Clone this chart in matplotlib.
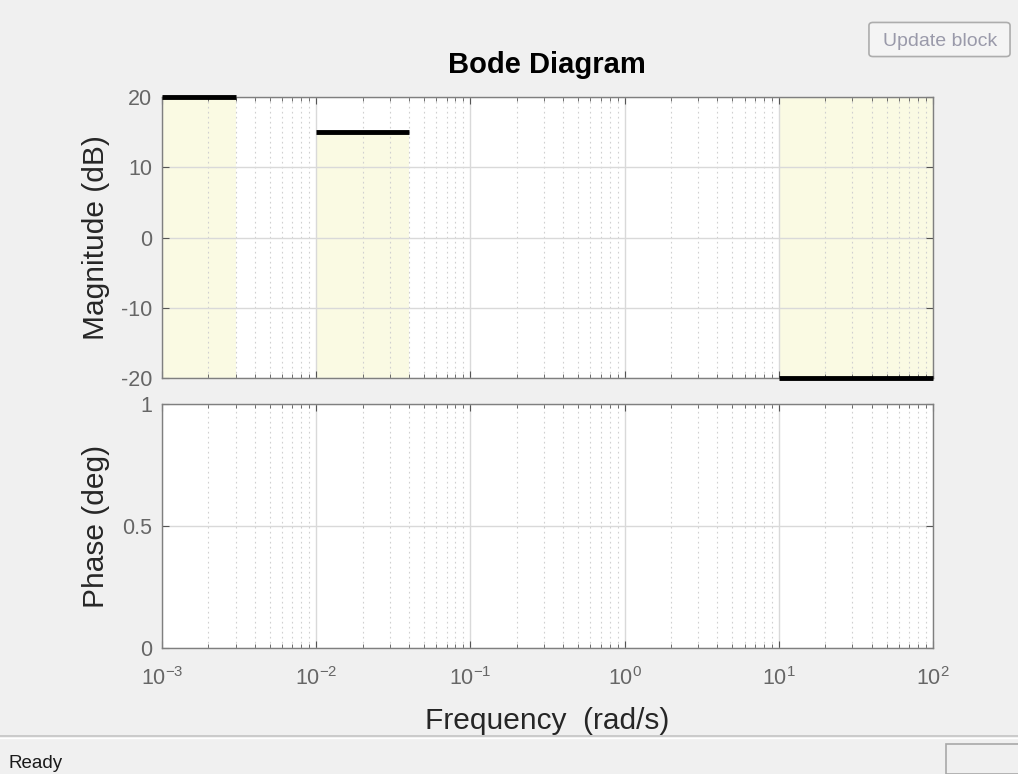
import matplotlib.pyplot as plt
from matplotlib.patches import FancyBboxPatch, Rectangle
from matplotlib.ticker import LogLocator, NullFormatter

plt.rcParams["font.family"] = ["Liberation Sans", "DejaVu Sans"]
plt.rcParams["mathtext.fontset"] = "custom"
plt.rcParams["mathtext.rm"] = "Liberation Sans"
plt.rcParams["mathtext.it"] = "Liberation Sans"
plt.rcParams["axes.unicode_minus"] = False

# bound regions: (freq start, freq end, magnitude dB)
bound_lo = [1e-3, 1e-2, 10]
bound_hi = [3e-3, 4e-2, 100]
bound_db = [20, 15, -20]
upper_bound = [True, True, False]

mag_ticks = [-20, -10, 0, 10, 20]
phase_ticks = [0, 0.5, 1]
phase_labels = ["0", "0.5", "1"]
freq_ticks = [1e-3, 1e-2, 1e-1, 1e0, 1e1, 1e2]
freq_labels = [r"$\mathregular{10^{-3}}$", r"$\mathregular{10^{-2}}$", r"$\mathregular{10^{-1}}$",
               r"$\mathregular{10^{0}}$", r"$\mathregular{10^{1}}$", r"$\mathregular{10^{2}}$"]

BG = "#f0f0f0"
SHADE = "#fafade"
GRID = "#d9d9d9"
TICK_COL = "#666666"
LABEL_COL = "#262626"

fig = plt.figure(figsize=(10.18, 7.74), dpi=100, facecolor=BG)
W, H = 1018, 774


def ax_rect(x0, y0, x1, y1):
    return [x0 / W, 1 - y1 / H, (x1 - x0) / W, (y1 - y0) / H]


ax1 = fig.add_axes(ax_rect(162, 97, 933, 378))
ax2 = fig.add_axes(ax_rect(162, 404, 933, 648))

for ax in (ax1, ax2):
    ax.set_xscale("log")
    ax.set_xlim(1e-3, 1e2)
    ax.set_facecolor("white")
    ax.xaxis.set_minor_locator(LogLocator(base=10, subs=range(2, 10), numticks=20))
    ax.xaxis.set_minor_formatter(NullFormatter())
    ax.grid(True, which="major", color=GRID, linewidth=1.0, linestyle="-")
    ax.grid(True, which="minor", axis="x", color="#d0d0d0", linewidth=0.8, linestyle=(0, (1.5, 3)))
    ax.tick_params(which="both", direction="in", top=True, right=True, colors="#555555",
                   labelsize=15.5, labelcolor=TICK_COL)
    ax.tick_params(which="major", length=5, width=0.8)
    ax.tick_params(which="minor", length=3, width=0.6)
    ax.tick_params(axis="y", pad=7)
    ax.set_axisbelow(True)
    for s in ax.spines.values():
        s.set_color("#7f7f7f")
        s.set_linewidth(1.0)

ax1.set_ylim(-20, 20)
ax1.set_yticks(mag_ticks)
ax1.set_yticklabels([str(t) for t in mag_ticks])
ax1.set_xticklabels([])
ax1.set_ylabel("Magnitude (dB)", fontsize=21.5, color=LABEL_COL)

for lo, hi, db, up in zip(bound_lo, bound_hi, bound_db, upper_bound):
    y0, y1 = (db, 20) if not up else (-20, db)
    ax1.add_patch(Rectangle((lo, y0), hi - lo, y1 - y0, facecolor=SHADE, edgecolor="none",
                            alpha=0.85, zorder=0.5))
    ax1.plot([lo, hi], [db, db], color="black", linewidth=3.5, solid_capstyle="butt",
             zorder=3, clip_on=False)

ax2.set_ylim(0, 1)
ax2.set_yticks(phase_ticks)
ax2.set_yticklabels(phase_labels)
ax2.set_xticks(freq_ticks)
ax2.set_xticklabels(freq_labels)
ax2.tick_params(axis="x", which="major", pad=14, labelsize=15.5)
ax2.set_ylabel("Phase (deg)", fontsize=21.5, color=LABEL_COL)

for ax in (ax1, ax2):
    ax.yaxis.set_label_coords(-0.068, 0.5)

fig.text(547 / W, 1 - 729 / H, "Frequency  (rad/s)", ha="center", va="baseline",
         fontsize=21.5, color=LABEL_COL)
fig.text(547 / W, 1 - 65 / H, "Bode Diagram", ha="center", va="center",
         fontsize=21, fontweight="bold", color="black")

# Update block button
btn = FancyBboxPatch((871 / W, 1 - 55 / H), 137 / W, 31 / H,
                     boxstyle="round,pad=0.002,rounding_size=0.004",
                     transform=fig.transFigure, facecolor="#f4f4f4", edgecolor="#adadad",
                     linewidth=1.2)
fig.patches.append(btn)
fig.text(940 / W, 1 - 41 / H, "Update block", ha="center", va="center",
         fontsize=14, color="#9a9aaa")

# status bar
fig.add_artist(plt.Line2D([0, 1], [1 - 736 / H, 1 - 736 / H], transform=fig.transFigure,
                          color="#c4c4c4", linewidth=1.2))
fig.add_artist(plt.Line2D([0, 1], [1 - 738 / H, 1 - 738 / H], transform=fig.transFigure,
                          color="white", linewidth=1.0))
fig.text(8 / W, 1 - 763 / H, "Ready", ha="left", va="center", fontsize=13.5, color="#1a1a1a")
fig.patches.append(Rectangle((946 / W, 0), 80 / W, 30 / H, transform=fig.transFigure,
                             facecolor=BG, edgecolor="#a8a8a8", linewidth=1.2))

fig.savefig("out.png", dpi=100, facecolor=BG)
